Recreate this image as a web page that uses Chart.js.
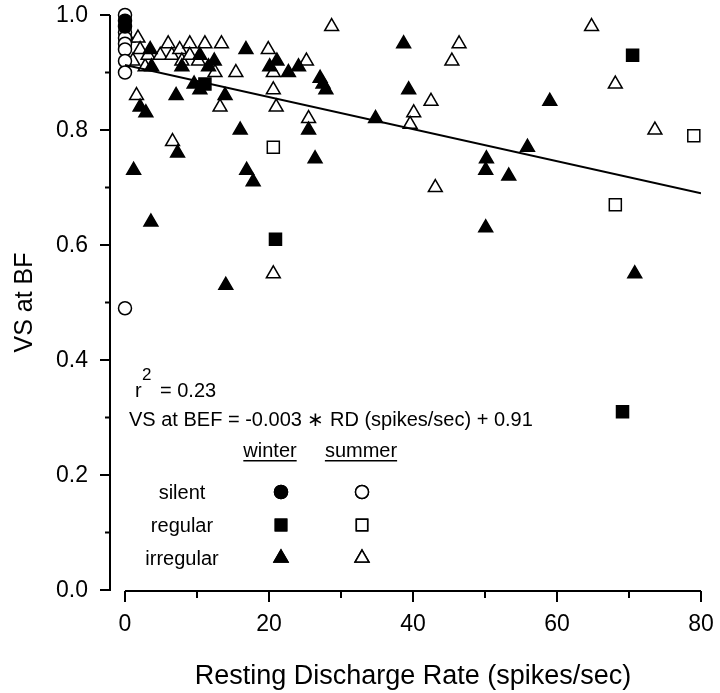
<!DOCTYPE html>
<html>
<head>
<meta charset="utf-8">
<script src="https://cdn.jsdelivr.net/npm/chart.js@4/dist/chart.umd.min.js"></script>
<style>
  body { margin: 0; background: #fff; }
  canvas { display: block; }
</style>
</head>
<body>
<canvas id="myChart" width="720" height="693"></canvas>
<script>
// данные: [частота, VS]
const silentWinter = [[0, 0.99], [0, 0.98]];
const silentSummer = [[0, 1.0], [0, 0.97], [0, 0.96], [0, 0.95], [0, 0.94], [0, 0.92], [0, 0.90], [0, 0.49]];
const regularWinter = [[11.1, 0.88], [20.9, 0.61], [70.5, 0.93], [69.1, 0.31]];
const regularSummer = [[20.6, 0.77], [68.1, 0.67], [79, 0.79]];
const irregularWinter = [
  [1.2, 0.73], [2.1, 0.84], [2.9, 0.83], [3.5, 0.94], [3.7, 0.91], [3.6, 0.64],
  [7.1, 0.86], [7.3, 0.76], [7.9, 0.91], [9.6, 0.88], [10.4, 0.87], [10.4, 0.93],
  [11.6, 0.91], [12.4, 0.92], [13.9, 0.86], [14, 0.53], [16, 0.80], [16.8, 0.94],
  [16.9, 0.73], [17.8, 0.71], [20.1, 0.91], [21.1, 0.92], [22.7, 0.90], [24.1, 0.91],
  [25.5, 0.80], [26.4, 0.75], [27.1, 0.89], [27.5, 0.88], [27.9, 0.87], [34.8, 0.82],
  [38.7, 0.95], [39.4, 0.87], [50.2, 0.75], [50.1, 0.73], [50.1, 0.63], [53.3, 0.72],
  [55.9, 0.77], [59, 0.85], [70.8, 0.55]
];
const irregularSummer = [
  [0.4, 0.96], [1.8, 0.96], [2.1, 0.94], [1.1, 0.92], [2.8, 0.91], [3.2, 0.93],
  [4.9, 0.93], [6, 0.95], [6.5, 0.93], [7.6, 0.94], [7.9, 0.92], [9, 0.95],
  [9, 0.93], [10.2, 0.92], [11.1, 0.95], [12.5, 0.90], [13.4, 0.95], [15.4, 0.90],
  [19.9, 0.94], [20.6, 0.90], [20.6, 0.87], [21, 0.84], [13.2, 0.84], [1.6, 0.86],
  [25.2, 0.92], [25.5, 0.82], [6.6, 0.78], [20.6, 0.55], [28.7, 0.98], [46.4, 0.95],
  [45.4, 0.92], [42.5, 0.85], [40.1, 0.83], [39.6, 0.81], [43.1, 0.70], [64.8, 0.98],
  [68.1, 0.88], [73.6, 0.80]
];
const fitLine = [[0, 0.913], [80, 0.69]];

const xTicks = [0, 20, 40, 60, 80];
const xMinorTicks = [10, 30, 50, 70];
const yTicks = ['0.0', '0.2', '0.4', '0.6', '0.8', '1.0'];
const yMinorTicks = [0.1, 0.3, 0.5, 0.7, 0.9];

const FONT = "'Liberation Sans', Arial, sans-serif";

function pts(arr) {
  return arr.map(p => ({ x: p[0], y: p[1] }));
}

function markerSet(label, arr, style, filled, radius) {
  return {
    label: label,
    data: pts(arr),
    pointStyle: style,
    pointRadius: radius,
    pointBackgroundColor: filled ? '#000' : '#fff',
    pointBorderColor: '#000',
    pointBorderWidth: 1.5,
    showLine: false,
    clip: false,
  };
}

const legendRows = [
  { text: 'silent', style: 'circle', r: 6.5 },
  { text: 'regular', style: 'rect', r: 8 },
  { text: 'irregular', style: 'triangle', r: 8 },
];

// оси, подписи и легенда рисуются вручную
const axesPlugin = {
  id: 'offsetAxes',
  afterDraw(chart) {
    const ctx = chart.ctx;
    const x = chart.scales.x;
    const y = chart.scales.y;
    const axisX = x.left - 15;
    const axisY = y.bottom + 1;
    ctx.save();
    ctx.strokeStyle = '#000';
    ctx.fillStyle = '#000';
    ctx.lineWidth = 2;

    // ось Y
    ctx.beginPath();
    ctx.moveTo(axisX, y.top);
    ctx.lineTo(axisX, y.bottom + 1);
    yTicks.forEach(t => {
      const py = y.getPixelForValue(Number(t));
      ctx.moveTo(axisX, py);
      ctx.lineTo(axisX - 10, py);
    });
    yMinorTicks.forEach(t => {
      const py = y.getPixelForValue(t);
      ctx.moveTo(axisX, py);
      ctx.lineTo(axisX - 5, py);
    });
    // ось X
    ctx.moveTo(x.left, axisY);
    ctx.lineTo(x.right, axisY);
    xTicks.forEach(t => {
      const px = x.getPixelForValue(t);
      ctx.moveTo(px, axisY);
      ctx.lineTo(px, axisY + 11);
    });
    xMinorTicks.forEach(t => {
      const px = x.getPixelForValue(t);
      ctx.moveTo(px, axisY);
      ctx.lineTo(px, axisY + 7);
    });
    ctx.stroke();

    ctx.font = '23px ' + FONT;
    ctx.textAlign = 'right';
    ctx.textBaseline = 'middle';
    yTicks.forEach(t => {
      ctx.fillText(t, axisX - 22, y.getPixelForValue(Number(t)) + 1);
    });
    ctx.textAlign = 'center';
    ctx.textBaseline = 'alphabetic';
    xTicks.forEach(t => {
      ctx.fillText(String(t), x.getPixelForValue(t), 631);
    });

    // заголовки осей
    ctx.font = '27px ' + FONT;
    ctx.fillText('Resting Discharge Rate (spikes/sec)', (x.left + x.right) / 2, 684);
    ctx.save();
    ctx.translate(32, (y.top + y.bottom) / 2);
    ctx.rotate(-Math.PI / 2);
    ctx.font = '25px ' + FONT;
    ctx.fillText('VS at BF', 0, 0);
    ctx.restore();

    // уравнение регрессии
    ctx.textAlign = 'left';
    ctx.font = '20px ' + FONT;
    ctx.fillText('r', 135, 397);
    ctx.fillText('= 0.23', 160, 397);
    ctx.font = '17px ' + FONT;
    ctx.fillText('2', 142, 380);
    ctx.font = '20px ' + FONT;
    ctx.fillText('VS at BEF = -0.003 \u2217 RD (spikes/sec) + 0.91', 129, 426);

    // легенда
    ctx.textAlign = 'center';
    [['winter', 270], ['summer', 361]].forEach(h => {
      ctx.fillText(h[0], h[1], 457);
      const w = ctx.measureText(h[0]).width;
      ctx.fillRect(h[1] - w / 2, 460, w, 1.5);
    });
    legendRows.forEach((row, i) => {
      const cy = 492 + i * 33;
      ctx.fillText(row.text, 182, cy + 7);
      [[281, '#000'], [362, '#fff']].forEach(c => {
        ctx.fillStyle = c[1];
        ctx.strokeStyle = '#000';
        ctx.lineWidth = 1.5;
        Chart.helpers.drawPoint(ctx, { pointStyle: row.style, radius: row.r, borderWidth: 1.5 }, c[0], cy);
        ctx.fill();
        ctx.stroke();
      });
      ctx.fillStyle = '#000';
    });
    ctx.restore();
  }
};

const config = {
  type: 'scatter',
  data: {
    datasets: [
      {
        label: 'fit',
        type: 'line',
        data: pts(fitLine),
        borderColor: '#000',
        borderWidth: 2,
        pointRadius: 0,
        fill: false,
      },
      markerSet('silent winter', silentWinter, 'circle', true, 6.5),
      markerSet('regular winter', regularWinter, 'rect', true, 8.5),
      markerSet('irregular winter', irregularWinter, 'triangle', true, 8),
      markerSet('silent summer', silentSummer, 'circle', false, 6.5),
      markerSet('regular summer', regularSummer, 'rect', false, 8.5),
      markerSet('irregular summer', irregularSummer, 'triangle', false, 8),
    ],
  },
  options: {
    responsive: false,
    animation: false,
    layout: { padding: { left: 125, right: 19, top: 15, bottom: 103 } },
    scales: {
      x: { type: 'linear', min: 0, max: 80, display: false },
      y: { type: 'linear', min: 0, max: 1, display: false },
    },
    plugins: {
      legend: { display: false },
      tooltip: { enabled: false },
    },
  },
  plugins: [axesPlugin],
};

var myChart = new Chart(document.getElementById('myChart'), config);
</script>
</body>
</html>
